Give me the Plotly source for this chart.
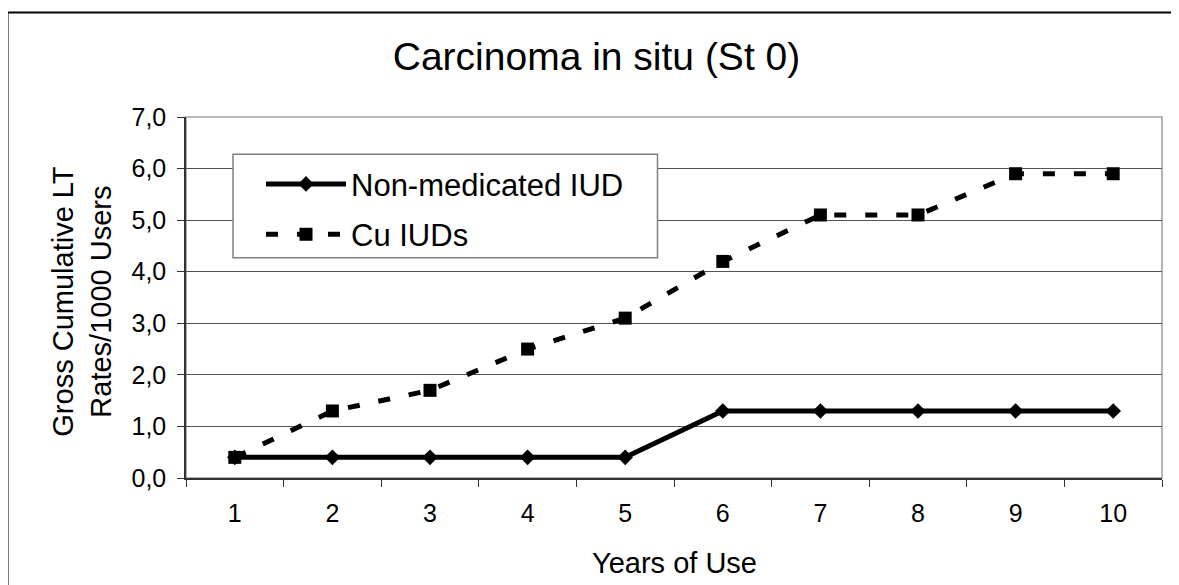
import plotly.graph_objects as go

years = ["1", "2", "3", "4", "5", "6", "7", "8", "9", "10"]
non_medicated = [0.4, 0.4, 0.4, 0.4, 0.4, 1.3, 1.3, 1.3, 1.3, 1.3]
cu_iuds = [0.4, 1.3, 1.7, 2.5, 3.1, 4.2, 5.1, 5.1, 5.9, 5.9]
y_ticks = [0, 1, 2, 3, 4, 5, 6, 7]

FONT = "Liberation Sans, Arial, sans-serif"

# the page body adds an 8px offset; work in screen pixels and compensate
OFF = 8
L, R, T, B = 186 - OFF, 1162 - OFF, 116.7 - OFF, 478.3 - OFF
W, H = R - L, B - T
def px(x):
    return (x - OFF - L) / W
def py(y):
    return (B - (y - OFF)) / H

fig = go.Figure()
fig.add_trace(go.Scatter(
    x=years, y=non_medicated, name="Non-medicated IUD", mode="lines+markers",
    line=dict(color="black", width=5),
    marker=dict(symbol="diamond", size=12, color="black"),
    legendgroup="a",
))
fig.add_trace(go.Scatter(
    x=years, y=cu_iuds, name="Cu IUDs", mode="lines+markers",
    line=dict(color="black", width=5, dash="12px,19px"),
    marker=dict(symbol="square", size=13, color="black"),
    legendgroup="b",
))

fig.update_layout(
    width=1179, height=585,
    margin=dict(l=L, r=1179 - R, t=T, b=585 - B),
    paper_bgcolor="white", plot_bgcolor="white",
    separators=",.",
    font=dict(family=FONT, color="black"),
    showlegend=True,
    title=dict(text="Carcinoma in situ (St 0)", x=(596.5 - OFF) / 1179, xref="container",
               xanchor="center", y=1 - (56 - OFF) / 585, yref="container", yanchor="middle",
               font=dict(size=39, family=FONT, color="black")),
    legend=dict(x=px(261), y=py(157), xanchor="left", yanchor="top",
                bgcolor="rgba(0,0,0,0)", borderwidth=0,
                font=dict(size=31, family=FONT, color="black"),
                itemwidth=80, tracegroupgap=7, traceorder="grouped"),
    xaxis=dict(type="category", range=[-0.5, 9.5], tickson="boundaries", ticks="outside",
               ticklen=7, tickcolor="#333", showline=True, linecolor="#333", linewidth=1.5,
               showgrid=False, tickfont=dict(size=25, family=FONT, color="black"),
               ticklabelstandoff=12),
    yaxis=dict(range=[0, 7], tickvals=y_ticks, tickformat=".1f", ticks="outside",
               ticklen=7, tickcolor="#333", showline=True, linecolor="#333",
               linewidth=1.5, showgrid=True, gridcolor="#555555", gridwidth=1,
               zeroline=False, tickfont=dict(size=25, family=FONT, color="black"),
               ticklabelstandoff=6),
    shapes=[
        # plot area frame (top/right light gray)
        dict(type="rect", xref="paper", yref="paper", x0=0, x1=1, y0=0, y1=1,
             line=dict(color="#a0a0a0", width=1.5), layer="below"),
        # legend box
        dict(type="rect", xref="paper", yref="paper", x0=px(233), x1=px(657.5),
             y0=py(257.7), y1=py(154), fillcolor="white",
             line=dict(color="#808080", width=1.5), layer="above"),
        # outer chart border (left and top visible)
        dict(type="line", xref="paper", yref="paper", x0=px(7.5), x1=px(7.5),
             y0=py(12), y1=py(620), line=dict(color="black", width=2)),
        dict(type="line", xref="paper", yref="paper", x0=px(7.5), x1=px(1220),
             y0=py(12), y1=py(12), line=dict(color="black", width=2)),
    ],
    annotations=[
        dict(text="Gross Cumulative LT<br>Rates/1000 Users", xref="paper", yref="paper",
             x=px(82), y=py(301.7), xanchor="center", yanchor="middle", textangle=-90,
             showarrow=False, font=dict(size=29, family=FONT, color="black")),
        dict(text="Years of Use", xref="paper", yref="paper", x=0.5, y=py(563),
             xanchor="center", yanchor="middle", showarrow=False,
             font=dict(size=29, family=FONT, color="black")),
    ],
)

fig.write_html("out.html")
